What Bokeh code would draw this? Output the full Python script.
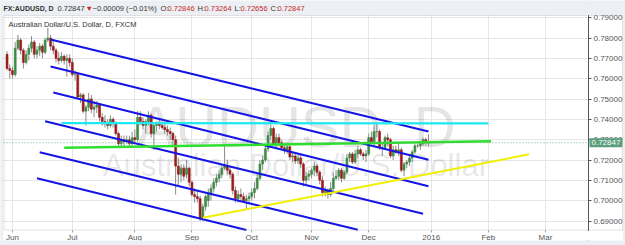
import numpy as np
import pandas as pd
from bokeh.plotting import figure
from bokeh.models import (ColumnDataSource, FixedTicker, Label, BoxAnnotation, Span,
                          Range1d, PrintfTickFormatter)
from bokeh.embed import file_html
from bokeh.resources import INLINE

# ---------------- data ----------------
dates = list(pd.bdate_range("2015-05-28", "2015-12-31").strftime("%Y-%m-%d"))

opens = [0.7720, 0.7650,
 0.7640, 0.7620, 0.7750, 0.7790, 0.7740, 0.7680, 0.7720, 0.7750, 0.7780, 0.7720,
 0.7740, 0.7760, 0.7730, 0.7790, 0.7800, 0.7760, 0.7740, 0.7700, 0.7690, 0.7710,
 0.7690, 0.7700,
 0.7680, 0.7620, 0.7620, 0.7510, 0.7520, 0.7440, 0.7460, 0.7500, 0.7450, 0.7460,
 0.7470, 0.7410, 0.7390, 0.7380, 0.7370, 0.7400, 0.7380, 0.7330, 0.7280, 0.7300,
 0.7290, 0.7300, 0.7280,
 0.7310, 0.7300, 0.7410, 0.7390, 0.7370, 0.7390, 0.7420, 0.7330, 0.7370, 0.7380,
 0.7370, 0.7360, 0.7350, 0.7340, 0.7330, 0.7300, 0.7170, 0.7130, 0.7160, 0.7130,
 0.7160,
 0.7090, 0.7030, 0.7020, 0.7010, 0.6915, 0.6970, 0.7000, 0.7030, 0.7060, 0.7090,
 0.7110, 0.7130, 0.7160, 0.7170, 0.7150, 0.7130, 0.7050, 0.7010, 0.7030, 0.7020,
 0.7000, 0.7010,
 0.7020, 0.7040, 0.7060, 0.7110, 0.7180, 0.7200, 0.7255, 0.7320, 0.7355, 0.7280,
 0.7310, 0.7285, 0.7260, 0.7245, 0.7265, 0.7215, 0.7220, 0.7195, 0.7210, 0.7180,
 0.7100, 0.7120,
 0.7130, 0.7150, 0.7170, 0.7140, 0.7100, 0.7040, 0.7050, 0.7030, 0.7060, 0.7110,
 0.7120, 0.7150, 0.7110, 0.7140, 0.7210, 0.7230, 0.7190, 0.7230, 0.7250, 0.7230,
 0.7220,
 0.7230, 0.7310, 0.7290, 0.7340, 0.7340, 0.7260, 0.7260, 0.7310, 0.7300, 0.7220,
 0.7250, 0.7240, 0.7250, 0.7150, 0.7180, 0.7190, 0.7210, 0.7240, 0.7270, 0.7270,
 0.7280, 0.7300, 0.72846]

highs = [0.7735, 0.7670,
 0.7660, 0.7780, 0.7815, 0.7800, 0.7750, 0.7740, 0.7770, 0.7810, 0.7790, 0.7760,
 0.7775, 0.7770, 0.7800, 0.7850, 0.7815, 0.7790, 0.7750, 0.7730, 0.7730, 0.7720,
 0.7720, 0.7720,
 0.7700, 0.7640, 0.7630, 0.7530, 0.7530, 0.7470, 0.7530, 0.7520, 0.7490, 0.7490,
 0.7480, 0.7430, 0.7420, 0.7400, 0.7420, 0.7410, 0.7390, 0.7340, 0.7320, 0.7320,
 0.7320, 0.7320, 0.7340,
 0.7350, 0.7440, 0.7440, 0.7410, 0.7400, 0.7440, 0.7430, 0.7380, 0.7390, 0.7400,
 0.7390, 0.7380, 0.7370, 0.7360, 0.7340, 0.7320, 0.7210, 0.7180, 0.7180, 0.7200,
 0.7165,
 0.7100, 0.7060, 0.7050, 0.7025, 0.6985, 0.7030, 0.7060, 0.7080, 0.7110, 0.7130,
 0.7150, 0.7180, 0.7280, 0.7200, 0.7170, 0.7140, 0.7070, 0.7050, 0.7060, 0.7040,
 0.7030, 0.7040,
 0.7060, 0.7090, 0.7130, 0.7200, 0.7220, 0.7270, 0.7340, 0.7382, 0.7365, 0.7330,
 0.7330, 0.7300, 0.7280, 0.7285, 0.7275, 0.7240, 0.7240, 0.7230, 0.7230, 0.7190,
 0.7140, 0.7150,
 0.7160, 0.7190, 0.7180, 0.7150, 0.7120, 0.7070, 0.7060, 0.7090, 0.7140, 0.7150,
 0.7160, 0.7160, 0.7150, 0.7230, 0.7240, 0.7240, 0.7250, 0.7270, 0.7260, 0.7240,
 0.7250,
 0.7330, 0.7340, 0.7370, 0.7385, 0.7350, 0.7280, 0.7320, 0.7330, 0.7310, 0.7270,
 0.7270, 0.7280, 0.7260, 0.7190, 0.7200, 0.7230, 0.7250, 0.7280, 0.7280, 0.7290,
 0.7310, 0.7310, 0.73264]

lows = [0.7640, 0.7600,
 0.7600, 0.7610, 0.7740, 0.7720, 0.7650, 0.7670, 0.7690, 0.7730, 0.7700, 0.7700,
 0.7710, 0.7700, 0.7720, 0.7780, 0.7740, 0.7720, 0.7680, 0.7670, 0.7680, 0.7670,
 0.7610, 0.7660,
 0.7610, 0.7590, 0.7500, 0.7480, 0.7430, 0.7370, 0.7440, 0.7430, 0.7410, 0.7430,
 0.7390, 0.7370, 0.7360, 0.7350, 0.7360, 0.7360, 0.7320, 0.7270, 0.7260, 0.7260,
 0.7280, 0.7260, 0.7270,
 0.7280, 0.7290, 0.7370, 0.7350, 0.7330, 0.7370, 0.7310, 0.7250, 0.7340, 0.7350,
 0.7350, 0.7330, 0.7320, 0.7300, 0.7270, 0.7030, 0.7075, 0.7090, 0.7100, 0.7110,
 0.7070,
 0.7020, 0.6990, 0.6990, 0.6900, 0.6900, 0.6950, 0.6970, 0.7000, 0.7040, 0.7070,
 0.7090, 0.7110, 0.7150, 0.7130, 0.7110, 0.7030, 0.6990, 0.6990, 0.7000, 0.6990,
 0.6960, 0.6990,
 0.7000, 0.7010, 0.7050, 0.7100, 0.7150, 0.7190, 0.7240, 0.7300, 0.7270, 0.7260,
 0.7270, 0.7250, 0.7230, 0.7230, 0.7200, 0.7190, 0.7180, 0.7180, 0.7160, 0.7070,
 0.7080, 0.7100,
 0.7110, 0.7120, 0.7120, 0.7080, 0.7020, 0.7020, 0.7010, 0.7020, 0.7050, 0.7100,
 0.7100, 0.7090, 0.7100, 0.7130, 0.7190, 0.7180, 0.7180, 0.7210, 0.7220, 0.7200,
 0.7190,
 0.7220, 0.7280, 0.7270, 0.7310, 0.7250, 0.7220, 0.7250, 0.7270, 0.7210, 0.7200,
 0.7230, 0.7220, 0.7140, 0.7120, 0.7160, 0.7170, 0.7190, 0.7230, 0.7260, 0.7250,
 0.7270, 0.7270, 0.72656]

closes = [0.7650, 0.7640,
 0.7620, 0.7750, 0.7790, 0.7740, 0.7680, 0.7720, 0.7750, 0.7780, 0.7720, 0.7740,
 0.7760, 0.7730, 0.7790, 0.7800, 0.7760, 0.7740, 0.7700, 0.7690, 0.7710, 0.7690,
 0.7700, 0.7680,
 0.7620, 0.7620, 0.7510, 0.7520, 0.7440, 0.7460, 0.7500, 0.7450, 0.7460, 0.7470,
 0.7410, 0.7390, 0.7380, 0.7370, 0.7400, 0.7380, 0.7330, 0.7280, 0.7300, 0.7290,
 0.7300, 0.7280, 0.7310,
 0.7300, 0.7410, 0.7390, 0.7370, 0.7390, 0.7420, 0.7330, 0.7370, 0.7380, 0.7370,
 0.7360, 0.7350, 0.7340, 0.7330, 0.7300, 0.7170, 0.7130, 0.7160, 0.7120, 0.7160,
 0.7090,
 0.7030, 0.7020, 0.7010, 0.6915, 0.6970, 0.7020, 0.7030, 0.7060, 0.7090, 0.7110,
 0.7130, 0.7160, 0.7170, 0.7150, 0.7130, 0.7050, 0.7010, 0.7030, 0.7020, 0.7000,
 0.7010, 0.7020,
 0.7040, 0.7060, 0.7110, 0.7180, 0.7200, 0.7255, 0.7320, 0.7355, 0.7280, 0.7310,
 0.7285, 0.7260, 0.7245, 0.7265, 0.7215, 0.7220, 0.7195, 0.7210, 0.7180, 0.7100,
 0.7120, 0.7130,
 0.7150, 0.7170, 0.7140, 0.7100, 0.7040, 0.7050, 0.7030, 0.7060, 0.7110, 0.7120,
 0.7150, 0.7110, 0.7140, 0.7210, 0.7230, 0.7190, 0.7230, 0.7250, 0.7230, 0.7220,
 0.7230,
 0.7310, 0.7290, 0.7340, 0.7340, 0.7260, 0.7260, 0.7310, 0.7300, 0.7220, 0.7250,
 0.7240, 0.7250, 0.7150, 0.7180, 0.7190, 0.7210, 0.7240, 0.7270, 0.7270, 0.7280,
 0.7300, 0.7285, 0.72847]

month_dates = ["2015-06-01", "2015-07-01", "2015-08-03", "2015-09-01", "2015-10-01",
               "2015-11-02", "2015-12-01", "2016-01-01", "2016-02-01", "2016-03-01"]
month_labels = ["Jun", "Jul", "Aug", "Sep", "Oct", "Nov", "Dec", "2016", "Feb", "Mar"]
price_ticks = [0.69, 0.70, 0.71, 0.72, 0.73, 0.74, 0.75, 0.76, 0.77, 0.78, 0.79]

# drawn trend lines (start date, start price, end date, end price)
channel_start_dates = ["2015-06-19", "2015-06-19", "2015-06-22", "2015-06-17", "2015-06-15", "2015-06-12"]
channel_start_prices = [0.7793, 0.7660, 0.7532, 0.7391, 0.7238, 0.7110]
channel_end_dates = ["2015-12-31", "2015-12-31", "2015-12-31", "2015-12-29", "2015-11-25", "2015-09-29"]
channel_end_prices = [0.7340, 0.7201, 0.7071, 0.6936, 0.6857, 0.6856]

cyan_dates = ["2015-06-25", "2016-02-01"]
cyan_prices = [0.7381, 0.7380]
green_dates = ["2015-06-26", "2016-02-02"]
green_prices = [0.7260, 0.7292]
yellow_dates = ["2015-09-07", "2016-02-22"]
yellow_prices = [0.6916, 0.7228]

last_price = 0.72847
header_parts = [("FX:AUDUSD, D", "dark_bold"), ("0.72847", "dark"), ("\u25bc", "red"),
                ("\u22120.00009 (\u22120.01%)", "dark"), ("O:", "dark"), ("0.72846", "red"),
                ("H:", "dark"), ("0.73264", "red"), ("L:", "dark"), ("0.72656", "red"),
                ("C:", "dark"), ("0.72847", "red")]
legend_text = "Australian Dollar/U.S. Dollar, D, FXCM"
watermark_main = "AUDUSD, D"
watermark_sub = "Australian Dollar/U.S. Dollar"

# ---------------- layout helpers (pixel -> data) ----------------
ORIGIN = np.datetime64("2015-06-01")


def bar_index(d):
    return np.busday_count(ORIGIN, np.array(d, dtype="datetime64[D]"))


W, H = 625, 245
PANE_L, PANE_T, PANE_R, PANE_B, SCALE_R, TIME_B = 3, 15, 588, 230, 622, 240
PX_PER_BAR = 2.719
X0 = -12 / PX_PER_BAR                 # frame spans the whole canvas
X1 = X0 + W / PX_PER_BAR
PX_PER_UNIT = 2033.0
Y1 = 0.69 + 220.5 / PX_PER_UNIT
Y0 = Y1 - H / PX_PER_UNIT


def px_x(px):
    return X0 + px / PX_PER_BAR


def px_y(py):
    return Y1 - py / PX_PER_UNIT


FONT = "Liberation Sans"
BAND = "#eceff4"
EDGE = "#9a9a9a"


def box(l, r, t, b, fill=None, line=None, level="annotation"):
    p.add_layout(BoxAnnotation(left=px_x(l), right=px_x(r), top=px_y(t), bottom=px_y(b),
                               fill_color=fill, fill_alpha=1 if fill else 0,
                               line_color=line, line_width=1, level=level))


# ---------------- figure ----------------
p = figure(width=W, height=H, x_range=Range1d(X0, X1), y_range=Range1d(Y0, Y1),
           output_backend="svg", toolbar_location=None, y_axis_location="right",
           min_border_left=0, min_border_right=0, min_border_top=0, min_border_bottom=0)
p.border_fill_color = "white"
p.background_fill_color = "white"
p.outline_line_color = None

xticks = [int(v) for v in bar_index(month_dates)]
p.xaxis.fixed_location = px_y(PANE_B)
p.xaxis.ticker = FixedTicker(ticks=xticks)
p.xaxis.major_label_overrides = {t: l for t, l in zip(xticks, month_labels)}
p.xaxis.major_label_text_font_size = "8px"
p.xaxis.major_label_text_color = "#555555"
p.xaxis.major_label_text_font = FONT
p.xaxis.axis_line_color = None
p.xaxis.major_tick_line_color = EDGE
p.xaxis.major_tick_out = 2
p.xaxis.major_tick_in = 0
p.xaxis.minor_tick_line_color = None
p.xaxis.major_label_standoff = 0

p.yaxis.fixed_location = px_x(PANE_R)
p.yaxis.ticker = FixedTicker(ticks=price_ticks)
p.yaxis.formatter = PrintfTickFormatter(format="%.5f")
p.yaxis.major_label_text_font_size = "8px"
p.yaxis.major_label_text_color = "#555555"
p.yaxis.major_label_text_font = FONT
p.yaxis.axis_line_color = "#555555"
p.yaxis.major_tick_line_color = "#555555"
p.yaxis.major_tick_out = 3
p.yaxis.major_tick_in = 0
p.yaxis.minor_tick_line_color = None
p.yaxis.major_label_standoff = 2

p.xgrid.ticker = FixedTicker(ticks=xticks)
p.ygrid.ticker = FixedTicker(ticks=price_ticks)
p.xgrid.grid_line_color = "#e6e6e6"
p.ygrid.grid_line_color = "#e6e6e6"

# white price scale and time scale panels (hide the grid there)
box(PANE_R, SCALE_R, PANE_T, PANE_B, fill="white", level="underlay")
box(PANE_L, SCALE_R, PANE_B, TIME_B, fill="white", level="underlay")

# watermark
cx = px_x((PANE_L + PANE_R) / 2)
p.add_layout(Label(x=cx, y=px_y(126), text=watermark_main, text_align="center",
                   text_baseline="alphabetic", text_font_size="58px",
                   text_font=FONT, text_color="#000000", text_alpha=0.1,
                   level="underlay"))
p.add_layout(Label(x=cx, y=px_y(165), text=watermark_sub, text_align="center",
                   text_baseline="alphabetic", text_font_size="31px",
                   text_font=FONT, text_color="#000000", text_alpha=0.1,
                   level="underlay"))

# last price dotted line
p.add_layout(Span(location=last_price, dimension="width", line_color="#5a9e7c",
                  line_dash="1 2", line_width=1, line_alpha=0.8))

# candles
xi = bar_index(dates)
o = np.array(opens); h = np.array(highs); l = np.array(lows); c = np.array(closes)
up = c >= o
src = ColumnDataSource(dict(x=xi, o=o, h=h, l=l, c=c,
                            top=np.maximum(o, c), bot=np.minimum(o, c),
                            col=np.where(up, "#3d8b45", "#9b1c1c")))
p.segment(x0="x", y0="h", x1="x", y1="l", source=src, line_color="#8a8a8a", line_width=1)
p.vbar(x="x", top="top", bottom="bot", width=0.72, source=src, fill_color="col",
       line_color="col", line_width=0.6)

# trend lines
for sd, sp, ed, ep in zip(channel_start_dates, channel_start_prices,
                          channel_end_dates, channel_end_prices):
    p.line(bar_index([sd, ed]), [sp, ep], line_color="#1414e6", line_width=2)
p.line(bar_index(cyan_dates), cyan_prices, line_color="#1ee8f0", line_width=2.2)
p.line(bar_index(green_dates), green_prices, line_color="#2ee02e", line_width=2.4)
p.line(bar_index(yellow_dates), yellow_prices, line_color="#f0f000", line_width=2)

# legend in pane
p.add_layout(Label(x=px_x(8), y=px_y(24), text=legend_text, text_baseline="middle",
                   text_font_size="7.5px", text_font=FONT, text_color="#333333"))

# last price tag on the scale
p.add_layout(Label(x=px_x(PANE_R + 1), y=last_price, text="0.72847", text_baseline="middle",
                   text_font_size="8px", text_font=FONT,
                   text_color="white", background_fill_color="#5a9e7c",
                   background_fill_alpha=1, padding=2))

# frame lines and grey surround
box(PANE_R - 2, PANE_R + 2, PANE_B + 0.5, TIME_B, fill="white")
box(PANE_L + 0.5, SCALE_R, PANE_T, PANE_B - 0.5, line=EDGE)
box(SCALE_R + 0.5, W + 1, -1, H + 1, fill=BAND)
box(-1, PANE_L - 0.5, -1, H + 1, fill=BAND)
box(-1, W + 1, TIME_B, H + 1, fill=BAND)
box(-1, W + 1, -1, PANE_T - 0.5, fill=BAND)

header_x = [3, 57, 85, 92, 160, 167, 197, 204, 234, 240, 270, 277]
for (txt, kind), hx in zip(header_parts, header_x):
    p.add_layout(Label(x=px_x(hx), y=px_y(7.5), text=txt, text_baseline="middle",
                       text_font_size="7px" if kind == "dark_bold" else "7.5px",
                       text_font=FONT,
                       text_font_style="bold" if kind == "dark_bold" else "normal",
                       text_color="#c62828" if kind == "red" else "#333333"))

open("out.html", "w").write(file_html(p, INLINE))
